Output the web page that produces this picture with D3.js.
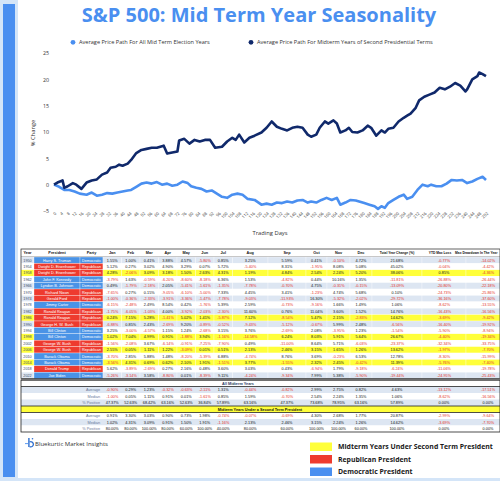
<!DOCTYPE html>
<html lang="en">
<head>
<meta charset="UTF-8">
<title>S&amp;P 500: Mid Term Year Seasonality</title>
<script src="https://d3js.org/d3.v7.min.js"></script>
<style>
  body { margin: 0; background: #fff; }
  svg { display: block; font-family: "Open Sans", sans-serif; }
  .tbl text { font-family: "Liberation Sans", Arial, sans-serif; }
</style>
</head>
<body>
<script>
// ---- chart data: [trading day, % change]
const allMidterm = [[0,0],[3,-0.4],[6,-1.0],[9,-1.0],[12,-1.3],[15,-1.7],[19,-1.9],[22,-1.5],[25,-2.1],[28,-1.9],
  [31,-1.6],[34,-1.7],[37,-1.5],[40,-1.3],[43,-1.1],[45,-1.0],[48,-0.4],[51,0.2],[54,0.4],[57,0.2],[60,0.5],
  [63,0.0],[66,0.2],[69,-0.2],[72,0.0],[75,0.6],[78,0.3],[80,-0.3],[83,-0.6],[86,-0.8],[89,-1.3],[92,-1.1],
  [95,-1.7],[98,-2.3],[101,-2.5],[104,-1.9],[107,-1.7],[110,-1.9],[113,-2.7],[117,-2.9],[121,-3.8],[124,-3.6],
  [127,-3.8],[130,-3.4],[133,-3.5],[136,-3.2],[139,-3.4],[142,-3.0],[145,-2.9],[148,-3.4],[150,-3.2],[153,-3.4],
  [156,-2.9],[159,-2.5],[162,-2.9],[165,-2.5],[167,-3.8],[170,-3.4],[173,-2.9],[176,-3.0],[178,-3.2],[181,-3.5],
  [184,-3.8],[187,-4.1],[189,-4.6],[191,-4.1],[193,-4.4],[195,-3.5],[198,-2.9],[201,-2.3],[204,-1.9],[206,-2.7],
  [209,-2.3],[212,-1.0],[215,0.0],[218,-0.3],[220,0.0],[223,-0.3],[226,-0.3],[229,0.2],[232,0.9],[235,0.8],
  [238,0.9],[241,0.3],[244,0.6],[247,1.1],[250,1.5],[252,0.9]]

const secondTerm = [[0,0],[2,0.4],[5,0.8],[6,-0.6],[8,-0.3],[11,0.3],[13,0.0],[16,-0.8],[19,0.4],[22,0.8],
  [25,1.0],[28,1.9],[31,2.3],[33,3.2],[36,3.4],[38,3.8],[40,3.6],[43,4.0],[45,4.7],[48,6.0],[51,6.6],[54,6.8],
  [57,7.0],[60,7.0],[64,7.4],[66,5.9],[69,6.1],[72,6.3],[73,8.4],[76,8.7],[79,7.8],[82,8.5],[85,8.2],[88,8.5],
  [91,8.5],[94,7.0],[98,7.2],[101,8.2],[104,8.9],[106,8.5],[108,9.5],[111,8.0],[114,8.9],[117,9.3],[121,9.9],
  [124,10.8],[127,12.0],[130,11.0],[133,10.6],[136,10.3],[139,10.8],[142,11.0],[145,10.8],[148,9.5],[150,9.1],
  [153,9.5],[155,10.8],[158,12.0],[160,11.6],[163,12.2],[165,11.6],[167,9.9],[170,10.3],[172,10.8],[174,10.0],
  [177,9.9],[180,10.3],[183,11.2],[185,10.8],[188,9.3],[191,10.3],[193,9.9],[195,10.6],[198,10.8],[201,12.0],
  [204,12.7],[206,13.1],[208,13.5],[211,14.6],[213,16.0],[216,16.7],[219,17.1],[222,17.5],[225,18.4],[228,18.1],
  [231,18.6],[234,19.3],[237,18.8],[240,17.7],[241,18.1],[244,20.0],[247,20.6],[248,21.3],[250,21.0],[252,20.6]]

const yTicks = [-5, 0, 5, 10, 15, 20, 25]
const xTicks = [0,4,8,12,16,20,24,28,32,36,40,44,48,52,56,60,64,68,72,76,80,84,88,92,96,100,104,108,112,116,120,
  124,128,132,136,140,144,148,152,156,160,164,168,172,176,180,184,188,192,196,200,204,208,212,216,220,224,228,
  232,236,240,244,248,252]

// ---- table data
const tYears = [1950,1954,1958,1962,1966,1970,1974,1978,1982,1986,1990,1994,1998,2002,2006,2010,2014,2018,2022]
const tPresidents = ["Harry S. Truman","Dwight D. Eisenhower","Dwight D. Eisenhower","John F. Kennedy",
  "Lyndon B. Johnson","Richard Nixon","Gerald Ford","Jimmy Carter","Ronald Reagan","Ronald Reagan",
  "George H. W. Bush","Bill Clinton","Bill Clinton","George W. Bush","George W. Bush","Barack Obama",
  "Barack Obama","Donald Trump","Joe Biden"]
const tParties = ["Democratic","Republican","Republican","Democratic","Democratic","Republican","Republican",
  "Democratic","Republican","Republican","Republican","Democratic","Democratic","Republican","Republican",
  "Democratic","Democratic","Republican","Democratic"]
const secondTermYears = [1958, 1986, 1998, 2006, 2014]
const headers = ["Year","President","Party","Jan","Feb","Mar","Apr","May","Jun","Jul","Aug","Sep","Oct","Nov","Dec",
  "Total Year Change (%)","YTD Max Loss","Max Drawdown In The Year"]

// Jan..Dec, total year change, YTD max loss, max drawdown
const tValues = [
  [1.55,1.00,0.41,3.88,4.57,-5.80,0.85,3.25,5.59,0.41,-0.10,4.72,21.68,-0.77,-14.02],
  [5.12,0.27,3.02,4.90,3.29,0.07,5.72,-5.40,8.31,-1.95,8.08,5.08,45.02,-0.04,-4.42],
  [4.28,-2.06,3.09,3.18,1.50,2.63,4.31,1.19,4.84,2.54,2.24,5.20,38.06,0.85,-4.36],
  [-3.79,1.63,-0.59,-6.20,-8.60,-8.18,6.36,1.53,-4.82,0.44,10.16,1.35,-11.81,-26.88,-26.44],
  [0.49,-1.79,-2.18,2.05,-5.41,-1.61,-1.35,-7.78,-0.70,4.75,-0.31,-0.15,-13.09,-20.80,-22.18],
  [-7.65,0.27,0.15,-9.05,-6.10,-5.00,7.33,4.45,3.41,-1.23,4.74,5.68,0.10,-24.73,-25.86],
  [-1.00,-0.36,-2.33,-3.91,-3.36,-1.47,-7.78,-9.03,-11.93,16.30,-5.32,-2.02,-29.72,-36.16,-37.60],
  [-6.15,-2.48,2.49,8.54,0.42,-1.76,5.39,2.59,-0.73,-9.16,1.66,1.49,1.06,-8.62,-13.55],
  [-1.75,-6.05,-1.03,4.00,-3.92,-2.03,-2.30,11.60,0.76,11.04,3.60,1.52,14.76,-16.43,-16.56],
  [0.24,7.15,5.28,-1.41,5.02,1.41,-5.87,7.12,-8.54,5.47,2.15,-2.83,14.62,-3.69,-9.42],
  [-6.88,0.85,2.43,-2.69,9.20,-0.89,-0.52,-9.43,-5.12,-0.67,5.99,2.48,-6.56,-16.40,-19.92],
  [3.25,-3.00,-4.57,1.15,1.24,-2.68,3.15,3.76,-2.69,2.08,-3.95,1.23,-1.54,-5.90,-8.94],
  [1.02,7.04,4.99,0.91,-1.88,3.94,-1.16,-14.58,6.24,8.03,5.91,5.64,26.67,-4.40,-19.34],
  [-1.56,-2.08,3.67,-6.14,-0.91,-7.25,-7.90,0.49,-11.00,8.64,5.71,-6.03,-23.37,-32.34,-33.75],
  [2.55,0.05,1.11,1.22,-3.09,0.01,0.51,2.13,2.46,3.15,1.65,1.26,13.62,-1.97,-7.70],
  [-3.70,2.85,5.88,1.48,-8.20,-5.39,6.88,-4.74,8.76,3.69,-0.23,6.53,12.78,-8.30,-15.99],
  [-3.56,4.31,0.69,0.62,2.10,1.91,-1.51,3.77,-1.55,2.32,2.45,-0.42,11.39,-5.76,-7.40],
  [5.62,-3.89,-2.69,0.27,2.16,0.48,3.60,3.03,0.43,-6.94,1.79,-9.18,-6.24,-11.06,-19.78],
  [-5.26,-3.14,3.58,-8.80,0.01,-8.39,9.11,-4.24,-9.34,7.99,5.38,-5.90,-19.44,-24.95,-25.43]
]

const allAvg = [-0.90,0.29,1.23,-0.32,-0.63,-2.11,1.31,-0.44,-0.82,2.99,2.75,0.82,4.63,-13.12,-17.51]
const allMedian = [-1.00,0.05,1.11,0.91,0.01,-1.61,0.85,1.59,-0.70,2.54,2.24,1.35,1.06,-8.62,-16.56]
const allPositive = [47.37,52.63,68.42,63.16,52.63,36.84,57.89,63.16,47.37,73.68,78.95,63.16,57.89,0.00,0.00]
const secAvg = [0.91,3.30,3.03,0.90,0.73,1.98,-0.74,-0.07,-0.69,4.30,2.68,1.77,20.87,-2.99,-9.64]
const secMedian = [1.02,4.31,3.09,0.91,1.50,1.91,-1.16,2.13,2.46,3.15,2.24,1.26,14.62,-3.69,-7.70]
const secPositive = [80.00,80.00,100.00,80.00,60.00,100.00,40.00,80.00,60.00,100.00,100.00,60.00,100.00,0.00,0.00]

const legendItems = ["Midterm Years Under Second Term President", "Republican President", "Democratic President"]

// ---- colours
const LIGHT = "#4a8ff0", NAVY = "#10296b"
const RED = "#ee3b2f", BLUE = "#4a93e6", YELLOW = "#ffff3a", ROWBLUE = "#dde6f2", NEG = "#e5302a"

const svg = d3.select("body").append("svg")
    .attr("width", 500)
    .attr("height", 481)

// frame
svg.append("rect").attr("width", 500).attr("height", 481).attr("fill", "#d4e5f8")
svg.append("rect").attr("x", 18).attr("y", 0).attr("width", 482).attr("height", 478).attr("fill", "#fff")
svg.append("rect").attr("x", 3).attr("y", 4).attr("width", 12).attr("height", 473).attr("fill", LIGHT)

// title
svg.append("text")
    .attr("x", 259).attr("y", 21.5)
    .attr("text-anchor", "middle")
    .attr("font-size", 20).attr("font-weight", 700)
    .attr("fill", LIGHT)
    .text("S&P 500: Mid Term Year Seasonality")

// chart legend
const chartLegend = [
  {label: "Average Price Path For All Mid Term Election Years", color: LIGHT, x: 73},
  {label: "Average Price Path For Midterm Years of Second Presidential Terms", color: NAVY, x: 251}
]
chartLegend.forEach(l => {
  svg.append("circle").attr("cx", l.x).attr("cy", 42.3).attr("r", 2.4).attr("fill", l.color)
  svg.append("text").attr("x", l.x + 6).attr("y", 44.2)
      .attr("font-size", 5.6).attr("fill", "#333").text(l.label)
})

// scales
const x = d3.scaleLinear().domain([0, 252]).range([54, 486])
const y = d3.scaleLinear().domain([-5, 25]).range([211, 53])

const yAxis = svg.append("g")
    .attr("transform", "translate(50,0)")
    .call(d3.axisLeft(y).tickValues(yTicks).tickSize(0).tickPadding(1))
yAxis.select(".domain").remove()
yAxis.selectAll("text").attr("font-size", 5.3).attr("fill", "#333").attr("font-family", "Open Sans")

const xAxis = svg.append("g")
    .attr("transform", "translate(0,214)")
    .call(d3.axisBottom(x).tickValues(xTicks).tickSize(0).tickPadding(0))
xAxis.select(".domain").remove()
xAxis.selectAll("text")
    .attr("font-size", 4.2).attr("fill", "#444").attr("font-family", "Open Sans")
    .attr("text-anchor", "end").attr("dy", "0.3em").attr("dx", "0.4em")
    .attr("transform", "rotate(-45)")

svg.append("text")
    .attr("x", 270).attr("y", 235)
    .attr("text-anchor", "middle").attr("font-size", 5.8).attr("fill", "#333")
    .text("Trading Days")

svg.append("text")
    .attr("transform", "translate(35,133) rotate(-90)")
    .attr("text-anchor", "middle").attr("font-size", 5.8).attr("fill", "#333")
    .text("% Change")

const line = d3.line().x(d => x(d[0])).y(d => y(d[1]))

svg.append("path").datum(allMidterm)
    .attr("d", line).attr("fill", "none")
    .attr("stroke", LIGHT).attr("stroke-width", 2.6).attr("stroke-linejoin", "round")
svg.append("path").datum(secondTerm)
    .attr("d", line).attr("fill", "none")
    .attr("stroke", NAVY).attr("stroke-width", 2.6).attr("stroke-linejoin", "round")

// ---- table
const tbl = svg.append("g").attr("class", "tbl")
const edges = [21, 34, 80, 103, 121.5, 140, 158.5, 177, 195.5, 214, 232.5, 268, 306, 327, 350, 372, 422, 466, 510]
const mid = i => (edges[i] + edges[i + 1]) / 2
const FS = 3.8
const fmt = v => v.toFixed(2) + "%"

const HEAD_Y = 249, HEAD_H = 8, ROW_H = 6.4
const dataTop = HEAD_Y + HEAD_H

// header (last three labels are long, so a touch smaller)
const headX = i => i === 16 ? 440 : i === 17 ? 497.5 : mid(i)
tbl.append("rect").attr("x", 21).attr("y", HEAD_Y).attr("width", 479).attr("height", HEAD_H).attr("fill", "#fff")
headers.forEach((h, i) => {
  tbl.append("text")
      .attr("x", headX(i)).attr("y", HEAD_Y + 5.4)
      .attr("text-anchor", i === 17 ? "end" : "middle")
      .attr("font-size", i >= 15 ? 3.3 : FS).attr("font-weight", 700).attr("fill", "#111")
      .text(h)
})
tbl.append("line").attr("x1", 21).attr("x2", 500).attr("y1", dataTop).attr("y2", dataTop)
    .attr("stroke", "#222").attr("stroke-width", 0.6)

function cell(i, y0, h, fill) {
  tbl.append("rect")
      .attr("x", edges[i]).attr("y", y0)
      .attr("width", edges[i + 1] - edges[i]).attr("height", h)
      .attr("fill", fill).attr("stroke", "#fff").attr("stroke-width", 0.3)
}
function cellText(i, y0, h, txt, color, weight) {
  tbl.append("text")
      .attr("x", mid(i)).attr("y", y0 + h / 2 + FS * 0.36)
      .attr("text-anchor", "middle").attr("font-size", FS)
      .attr("font-weight", weight || 400).attr("fill", color)
      .text(txt)
}

tYears.forEach((yr, r) => {
  const y0 = dataTop + r * ROW_H
  const hi = secondTermYears.includes(yr)
  const bg = hi ? YELLOW : (r % 2 === 0 ? ROWBLUE : "#fff")
  const pc = tParties[r] === "Republican" ? RED : BLUE
  cell(0, y0, ROW_H, bg)
  cellText(0, y0, ROW_H, yr, "#3b4a66")
  cell(1, y0, ROW_H, pc)
  cellText(1, y0, ROW_H, tPresidents[r], "#fff")
  cell(2, y0, ROW_H, pc)
  cellText(2, y0, ROW_H, tParties[r], "#fff")
  tValues[r].forEach((v, j) => {
    cell(j + 3, y0, ROW_H, bg)
    cellText(j + 3, y0, ROW_H, fmt(v), v < 0 ? NEG : "#111")
  })
})
const dataBottom = dataTop + tYears.length * ROW_H
tbl.append("rect").attr("x", 21).attr("y", HEAD_Y).attr("width", 479).attr("height", dataBottom - HEAD_Y)
    .attr("fill", "none").attr("stroke", "#222").attr("stroke-width", 0.7)

// summary blocks
const S_H = 6.5
function summaryBlock(top, title, titleFill, titleColor, rows, shade) {
  tbl.append("rect").attr("x", 21).attr("y", top).attr("width", 479).attr("height", S_H).attr("fill", titleFill)
  tbl.append("text").attr("x", title.x).attr("y", top + S_H / 2 + FS * 0.36)
      .attr("text-anchor", "middle").attr("font-size", FS).attr("font-weight", 700).attr("fill", titleColor)
      .text(title.text)
  rows.forEach((row, k) => {
    const y0 = top + S_H * (k + 1)
    const bg = shade[k] ? ROWBLUE : "#fff"
    tbl.append("rect").attr("x", 21).attr("y", y0).attr("width", 479).attr("height", S_H).attr("fill", bg)
    tbl.append("text").attr("x", 100).attr("y", y0 + S_H / 2 + FS * 0.36)
        .attr("text-anchor", "end").attr("font-size", FS).attr("fill", "#6b7a99").text(row.label)
    row.values.forEach((v, j) => {
      cellText(j + 3, y0, S_H, fmt(v), v < 0 ? NEG : "#111")
    })
  })
  tbl.append("line").attr("x1", 21).attr("x2", 500).attr("y1", top).attr("y2", top)
      .attr("stroke", "#222").attr("stroke-width", 0.8)
  tbl.append("line").attr("x1", 21).attr("x2", 500).attr("y1", top + S_H).attr("y2", top + S_H)
      .attr("stroke", "#222").attr("stroke-width", 0.8)
}

const block1 = dataBottom + 1.4
summaryBlock(block1, {text: "All Midterm Years", x: 238}, "#fff", "#1f3864", [
  {label: "Average", values: allAvg},
  {label: "Median", values: allMedian},
  {label: "% Positive", values: allPositive}
], [true, false, true])

const block2 = block1 + S_H * 4
summaryBlock(block2, {text: "Midterm Years Under a Second Term President", x: 260}, YELLOW, "#111", [
  {label: "Average", values: secAvg},
  {label: "Median", values: secMedian},
  {label: "% Positive", values: secPositive}
], [false, true, false])

tbl.append("rect").attr("x", 21).attr("y", block1).attr("width", 479).attr("height", S_H * 8)
    .attr("fill", "none").attr("stroke", "#222").attr("stroke-width", 0.8)

// ---- brand
const brand = svg.append("g").attr("transform", "translate(25,438)")
brand.append("rect").attr("x", 0).attr("y", 5.2).attr("width", 3).attr("height", 0.9).attr("fill", LIGHT)
brand.append("rect").attr("x", 3.2).attr("y", 0).attr("width", 1.4).attr("height", 9).attr("fill", "#2f6fd0")
brand.append("path").attr("d", "M4.6,4 A2.6,2.6 0 1 1 4.6,8.6").attr("fill", "none")
    .attr("stroke", "#2f6fd0").attr("stroke-width", 1.3)
brand.append("circle").attr("cx", 7.5).attr("cy", 0.8).attr("r", 0.8).attr("fill", "#2f6fd0")
brand.append("text").attr("x", 10).attr("y", 8).attr("font-size", 6).attr("fill", "#333")
    .text("Bluekurtic Market Insights")

// ---- bottom legend
const legColors = [YELLOW, RED, LIGHT]
legendItems.forEach((t, i) => {
  const ly = 442.5 + i * 12.5
  svg.append("rect").attr("x", 310).attr("y", ly).attr("width", 22).attr("height", 8.5).attr("fill", legColors[i])
  svg.append("text").attr("x", 338).attr("y", ly + 6.8)
      .attr("font-size", 6.9).attr("font-weight", 700).attr("fill", "#1a1a1a").text(t)
})
</script>
</body>
</html>
